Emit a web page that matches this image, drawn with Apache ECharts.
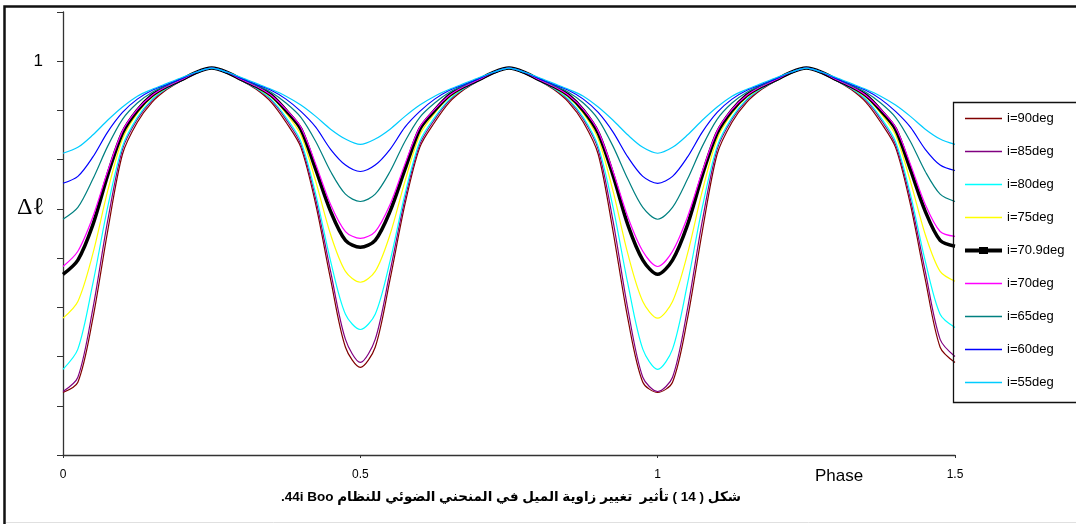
<!DOCTYPE html>
<html>
<head>
<meta charset="utf-8">
<script src="https://cdn.jsdelivr.net/npm/echarts@6/dist/echarts.min.js"></script>
<style>
html,body{margin:0;padding:0;background:#fff;}
#chart{width:1076px;height:524px;}
</style>
</head>
<body>
<div id="chart"></div>
<script>
var phases = [0,0.025,0.05,0.075,0.1,0.125,0.15,0.175,0.2,0.225,0.25,0.275,0.3,0.325,0.35,0.375,0.4,0.425,0.45,0.475,0.5,
0.525,0.55,0.575,0.6,0.625,0.65,0.675,0.7,0.725,0.75,0.775,0.8,0.825,0.85,0.875,0.9,0.925,0.95,0.975,1,
1.025,1.05,1.075,1.1,1.125,1.15,1.175,1.2,1.225,1.25,1.275,1.3,1.325,1.35,1.375,1.4,1.425,1.45,1.475,1.5];

var seriesNames = ['i=90deg','i=85deg','i=80deg','i=75deg','i=70.9deg','i=70deg','i=65deg','i=60deg','i=55deg'];

var i90 = [0.327,0.348,0.476,0.654,0.811,0.876,0.917,0.943,0.961,0.976,0.986,
0.976,0.961,0.943,0.917,0.876,0.825,0.709,0.557,0.419,0.378,
0.419,0.557,0.709,0.825,0.876,0.917,0.943,0.961,0.976,0.986,
0.976,0.961,0.943,0.917,0.876,0.811,0.654,0.476,0.348,0.327,
0.348,0.476,0.654,0.811,0.876,0.917,0.943,0.961,0.976,0.986,
0.976,0.961,0.943,0.917,0.876,0.825,0.709,0.557,0.419,0.388];

var i85 = [0.329,0.358,0.496,0.675,0.821,0.882,0.921,0.945,0.961,0.976,0.986,
0.976,0.961,0.945,0.921,0.882,0.831,0.720,0.573,0.435,0.388,
0.435,0.573,0.720,0.831,0.882,0.921,0.945,0.961,0.976,0.986,
0.976,0.961,0.945,0.921,0.882,0.821,0.675,0.496,0.358,0.329,
0.358,0.496,0.675,0.821,0.882,0.921,0.945,0.961,0.976,0.986,
0.976,0.961,0.945,0.921,0.882,0.831,0.720,0.573,0.435,0.400];

var i80 = [0.374,0.415,0.547,0.703,0.827,0.886,0.923,0.945,0.961,0.976,0.986,
0.976,0.961,0.945,0.923,0.886,0.837,0.730,0.594,0.486,0.455,
0.486,0.594,0.730,0.837,0.886,0.923,0.945,0.961,0.976,0.986,
0.976,0.961,0.945,0.923,0.886,0.827,0.703,0.547,0.415,0.374,
0.415,0.547,0.703,0.827,0.886,0.923,0.945,0.961,0.976,0.986,
0.976,0.961,0.945,0.923,0.886,0.837,0.730,0.594,0.486,0.459];

var i75 = [0.478,0.512,0.608,0.736,0.842,0.894,0.927,0.947,0.963,0.978,0.986,
0.978,0.963,0.947,0.927,0.894,0.850,0.756,0.648,0.573,0.551,
0.573,0.648,0.756,0.850,0.894,0.927,0.947,0.963,0.978,0.986,
0.978,0.963,0.947,0.927,0.894,0.842,0.736,0.608,0.512,0.478,
0.512,0.608,0.736,0.842,0.894,0.927,0.947,0.963,0.978,0.986,
0.978,0.963,0.947,0.927,0.894,0.850,0.756,0.648,0.573,0.553];

var i709 = [0.567,0.596,0.667,0.768,0.854,0.900,0.931,0.949,0.963,0.978,0.986,
0.978,0.963,0.949,0.931,0.900,0.862,0.780,0.695,0.636,0.622,
0.636,0.695,0.780,0.862,0.900,0.931,0.949,0.963,0.978,0.986,
0.978,0.963,0.949,0.931,0.900,0.854,0.768,0.667,0.596,0.567,
0.596,0.667,0.768,0.854,0.900,0.931,0.949,0.963,0.978,0.986,
0.978,0.963,0.949,0.931,0.900,0.862,0.780,0.695,0.636,0.624];

var i70 = [0.583,0.614,0.683,0.776,0.858,0.902,0.931,0.949,0.963,0.978,0.986,
0.978,0.963,0.949,0.931,0.902,0.866,0.791,0.709,0.654,0.640,
0.654,0.709,0.791,0.866,0.902,0.931,0.949,0.963,0.978,0.986,
0.978,0.963,0.949,0.931,0.902,0.858,0.776,0.683,0.614,0.583,
0.614,0.683,0.776,0.858,0.902,0.931,0.949,0.963,0.978,0.986,
0.978,0.963,0.949,0.931,0.902,0.866,0.791,0.709,0.654,0.644];

var i65 = [0.679,0.703,0.760,0.827,0.882,0.915,0.937,0.951,0.965,0.978,0.986,
0.978,0.965,0.951,0.937,0.915,0.886,0.837,0.776,0.730,0.715,
0.730,0.776,0.837,0.886,0.915,0.937,0.951,0.965,0.978,0.986,
0.978,0.965,0.951,0.937,0.915,0.882,0.827,0.760,0.703,0.679,
0.703,0.760,0.827,0.882,0.915,0.937,0.951,0.965,0.978,0.986,
0.978,0.965,0.951,0.937,0.915,0.886,0.837,0.776,0.730,0.715];

var i60 = [0.752,0.766,0.805,0.856,0.896,0.923,0.941,0.953,0.965,0.978,0.986,
0.978,0.965,0.953,0.941,0.923,0.898,0.866,0.821,0.789,0.776,
0.789,0.821,0.866,0.898,0.923,0.941,0.953,0.965,0.978,0.986,
0.978,0.965,0.953,0.941,0.923,0.896,0.856,0.805,0.766,0.752,
0.766,0.805,0.856,0.896,0.923,0.941,0.953,0.965,0.978,0.986,
0.978,0.965,0.953,0.941,0.923,0.898,0.866,0.821,0.789,0.778];

var i55 = [0.813,0.825,0.850,0.880,0.907,0.929,0.943,0.955,0.967,0.978,0.986,
0.978,0.967,0.955,0.943,0.929,0.911,0.888,0.862,0.842,0.831,
0.842,0.862,0.888,0.911,0.929,0.943,0.955,0.967,0.978,0.986,
0.978,0.967,0.955,0.943,0.929,0.907,0.880,0.850,0.825,0.813,
0.825,0.850,0.880,0.907,0.929,0.943,0.955,0.967,0.978,0.986,
0.978,0.967,0.955,0.943,0.929,0.911,0.888,0.862,0.842,0.831];

var xTickLabels = {0:'0', 0.5:'0.5', 1:'1', 1.5:'1.5'};
var yTickLabels = {1:'1'};

var seriesValues = [i90, i85, i80, i75, i709, i70, i65, i60, i55];
var seriesColors = ['#800000','#800080','#00FFFF','#FFFF00','#000000','#FF00FF','#008080','#0000FF','#00CCFF'];

var thinIcon = 'path://M0,0 L37,0 L37,1.4 L0,1.4 Z';
var thickIcon = 'path://M0,2 L37,2 L37,6 L0,6 Z M14,0.5 L23,0.5 L23,7.5 L14,7.5 Z';

function pairs(vals){ return phases.map(function(p,i){ return [p, vals[i]]; }); }

var series = seriesNames.map(function(name, idx){
  var thick = name === 'i=70.9deg';
  return {
    name: name,
    type: 'line',
    data: pairs(seriesValues[idx]),
    smooth: 0.3,
    symbol: 'none',
    showSymbol: false,
    animation: false,
    silent: true,
    lineStyle: { color: seriesColors[idx], width: thick ? 3.5 : 1.2 },
    itemStyle: { color: seriesColors[idx] }
  };
});

var legendData = seriesNames.map(function(name){
  return { name: name, icon: name === 'i=70.9deg' ? thickIcon : thinIcon };
});

var chart = echarts.init(document.getElementById('chart'), null, {renderer:'canvas'});
chart.setOption({
  animation: false,
  backgroundColor: '#ffffff',
  grid: { left: 63, right: 121, top: 12, bottom: 69 },
  xAxis: {
    type: 'value', min: 0, max: 1.5, interval: 0.5,
    axisLine: { lineStyle: { color: '#333', width: 1.3 } },
    axisTick: { length: 3, lineStyle: { color: '#333' } },
    splitLine: { show: false },
    axisLabel: {
      margin: 14, color: '#000', fontSize: 12, fontFamily: 'Arial, Liberation Sans',
      formatter: function(v){ var k = Math.round(v*10)/10; return xTickLabels[k] !== undefined ? xTickLabels[k] : ''; }
    }
  },
  yAxis: {
    type: 'value', min: 0.2, max: 1.1, interval: 0.1,
    axisLine: { show: true, lineStyle: { color: '#333', width: 1.3 } },
    axisTick: { show: true, length: 6, lineStyle: { color: '#333' } },
    splitLine: { show: false },
    axisLabel: {
      margin: 20, color: '#000', fontSize: 17, fontFamily: 'Arial, Liberation Sans',
      formatter: function(v){ var k = Math.round(v*10)/10; return yTickLabels[k] !== undefined ? yTickLabels[k] : ''; }
    }
  },
  legend: {
    orient: 'vertical', left: 965, top: 112, padding: 0,
    itemWidth: 37, itemHeight: 12, itemGap: 20,
    textStyle: { fontSize: 13, color: '#000', fontFamily: 'Arial, Liberation Sans' },
    data: legendData
  },
  graphic: [
    { type: 'rect', shape: { x: 4.5, y: 6.5, width: 1090, height: 540 }, style: { fill: 'none', stroke: '#111', lineWidth: 2.5 }, silent: true },
    { type: 'line', shape: { x1: 6, y1: 522.5, x2: 1076, y2: 522.5 }, style: { stroke: '#e0e0e0', lineWidth: 1 }, silent: true },
    { type: 'rect', shape: { x: 953.5, y: 102.5, width: 140, height: 300 }, style: { fill: 'none', stroke: '#111', lineWidth: 1.3 }, silent: true, z: 10 },
    { type: 'text', left: 17, top: 196, style: { text: 'Δℓ', font: '24px "Liberation Serif", "DejaVu Serif", serif', fill: '#000' } },
    { type: 'text', left: 815, top: 468, style: { text: 'Phase', font: '17px Arial, "Liberation Sans"', fill: '#000' } },
    { type: 'text', x: 511, y: 497, style: { text: '\u202Bشكل ( 14 ) تأثير  تغيير زاوية الميل في المنحني الضوئي للنظام 44i Boo.\u202C', font: 'bold 13.5px Arial, "Liberation Sans", "DejaVu Sans"', fill: '#000', textAlign: 'center', textVerticalAlign: 'middle' } }
  ],
  series: series
});
</script>
</body>
</html>
